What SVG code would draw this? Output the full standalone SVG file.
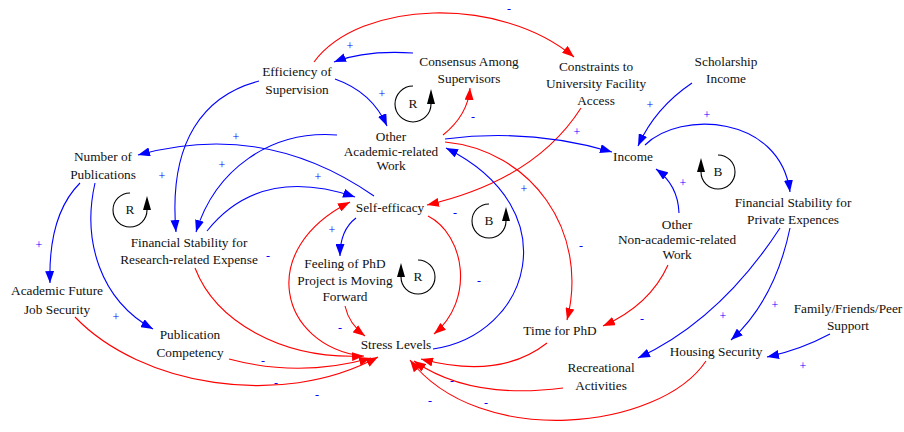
<svg xmlns="http://www.w3.org/2000/svg" width="904" height="432" viewBox="0 0 904 432">
<style>
.n{font-size:13.3px;fill:#111;text-anchor:middle}
.p{font-size:12px;fill:#0000ff;text-anchor:middle}
.b{fill:none;stroke:#0000ff;stroke-width:1.1;marker-end:url(#ab)}
.r{fill:none;stroke:#ff0000;stroke-width:1.1;marker-end:url(#ar)}
.lp{fill:none;stroke:#000;stroke-width:1.1}
.la{fill:#000}
</style>
<defs>
<marker id="ab" viewBox="0 0 12 9" refX="12" refY="4.5" markerWidth="12" markerHeight="9" markerUnits="userSpaceOnUse" orient="auto"><path d="M0,0L12,4.5L0,9z" fill="#0000ff"/></marker>
<marker id="ar" viewBox="0 0 12 9" refX="12" refY="4.5" markerWidth="12" markerHeight="9" markerUnits="userSpaceOnUse" orient="auto"><path d="M0,0L12,4.5L0,9z" fill="#ff0000"/></marker>
</defs>
<rect width="904" height="432" fill="#fff"/>
<g id="connectors">
<path class="r" d="M314,62 C360,0 500,-5 574,57"/>
<path class="b" d="M413,53 Q365,50 334,62"/>
<path class="b" d="M335,79 Q372,92 387,126"/>
<path class="r" d="M443,135 Q468,115 470,88"/>
<path class="b" d="M259,81 C205,95 168,140 176,232"/>
<path class="b" d="M374,196 Q265,120 138,155"/>
<path class="b" d="M337,135 C270,130 215,170 196,232"/>
<path class="b" d="M207,231 Q260,165 355,197"/>
<path class="b" d="M80,183 Q48,215 50,283"/>
<path class="b" d="M95,183 C82,240 100,300 153,329"/>
<path class="r" d="M75,317 C140,385 280,410 378,357"/>
<path class="r" d="M229,359 Q300,378 371,358"/>
<path class="r" d="M195,268 C215,320 280,360 364,356"/>
<path class="r" d="M362,356 C280,345 255,250 350,202"/>
<path class="b" d="M356,218 Q340,230 340,256"/>
<path class="r" d="M345,306 Q349,324 365,336"/>
<path class="r" d="M428,216 C465,235 475,300 434,334"/>
<path class="r" d="M581,108 Q535,180 427,205"/>
<path class="b" d="M445,139 Q530,128 612,152"/>
<path class="r" d="M445,142 C530,150 590,230 567,320"/>
<path class="b" d="M433,349 C530,335 570,210 446,148"/>
<path class="r" d="M547,343 Q500,380 421,359"/>
<path class="r" d="M563,388 Q470,400 414,361"/>
<path class="r" d="M706,361 C660,430 480,450 410,360"/>
<path class="b" d="M692,83 Q655,108 638,146"/>
<path class="b" d="M645,145 C680,110 780,115 790,192"/>
<path class="b" d="M679,213 Q678,185 656,169"/>
<path class="r" d="M668,265 Q650,305 603,326"/>
<path class="b" d="M780,228 Q720,320 638,358"/>
<path class="b" d="M790,228 Q775,300 731,340"/>
<path class="b" d="M830,334 Q800,350 767,357"/>
</g>
<g font-family="'Liberation Serif', 'DejaVu Serif', serif">
<g id="polarities">
<text class="p" x="350" y="50">+</text>
<text class="p" x="509" y="13">-</text>
<text class="p" x="382" y="98">+</text>
<text class="p" x="473" y="121">-</text>
<text class="p" x="577" y="136">+</text>
<text class="p" x="650" y="109">+</text>
<text class="p" x="707" y="119">+</text>
<text class="p" x="236" y="141">+</text>
<text class="p" x="162" y="180">+</text>
<text class="p" x="222" y="169">+</text>
<text class="p" x="318" y="181">+</text>
<text class="p" x="39" y="249">+</text>
<text class="p" x="116" y="321">+</text>
<text class="p" x="268" y="260">-</text>
<text class="p" x="332" y="234">+</text>
<text class="p" x="455" y="217">-</text>
<text class="p" x="524" y="193">+</text>
<text class="p" x="479" y="285">-</text>
<text class="p" x="581" y="250">-</text>
<text class="p" x="683" y="187">+</text>
<text class="p" x="642" y="323">-</text>
<text class="p" x="723" y="320">+</text>
<text class="p" x="775" y="309">+</text>
<text class="p" x="803" y="370">+</text>
<text class="p" x="340" y="332">-</text>
<text class="p" x="263" y="365">-</text>
<text class="p" x="276" y="387">-</text>
<text class="p" x="317" y="399">-</text>
<text class="p" x="452" y="385">-</text>
<text class="p" x="430" y="405">-</text>
<text class="p" x="486" y="407">-</text>
</g>
<g id="loop-R1"><path class="lp" d="M413,86 A18,18 0 1 0 431,104"/><path class="la" d="M431,89 L427,104 L435,104z"/><text class="n" x="413" y="108">R</text></g>
<g id="loop-R2"><path class="lp" d="M130,193 A17,17 0 1 0 147,210"/><path class="la" d="M147,196 L143,210 L151,210z"/><text class="n" x="130" y="214">R</text></g>
<g id="loop-B1"><path class="lp" d="M489,204 A17,17 0 1 0 506,221"/><path class="la" d="M506,207 L502,221 L510,221z"/><text class="n" x="489" y="225">B</text></g>
<g id="loop-B2"><path class="lp" d="M718,155 A17,17 0 1 1 701,172"/><path class="la" d="M701,158 L697,172 L705,172z"/><text class="n" x="718" y="176">B</text></g>
<g id="loop-R3"><path class="lp" d="M418,260 A17,17 0 1 1 401,277"/><path class="la" d="M401,263 L397,277 L405,277z"/><text class="n" x="418" y="281">R</text></g>
<g id="efficiency"><text class="n" x="297" y="76">Efficiency of</text><text class="n" x="297" y="94">Supervision</text></g>
<g id="consensus"><text class="n" x="469" y="66">Consensus Among</text><text class="n" x="469" y="83">Supervisors</text></g>
<g id="constraints"><text class="n" x="596" y="71">Constraints to</text><text class="n" x="596" y="88">University Facility</text><text class="n" x="596" y="105">Access</text></g>
<g id="scholarship"><text class="n" x="726" y="66">Scholarship</text><text class="n" x="726" y="83">Income</text></g>
<g id="other-academic"><text class="n" x="391" y="141">Other</text><text class="n" x="391" y="155.5">Academic-related</text><text class="n" x="391" y="169.5">Work</text></g>
<g id="income"><text class="n" x="633" y="161">Income</text></g>
<g id="number-publications"><text class="n" x="103" y="161">Number of</text><text class="n" x="103" y="179">Publications</text></g>
<g id="self-efficacy"><text class="n" x="390" y="212">Self-efficacy</text></g>
<g id="fs-private"><text class="n" x="793" y="207">Financial Stability for</text><text class="n" x="793" y="224">Private Expences</text></g>
<g id="fs-research"><text class="n" x="189" y="247">Financial Stability for</text><text class="n" x="189" y="264">Research-related Expense</text></g>
<g id="other-nonacademic"><text class="n" x="677" y="229">Other</text><text class="n" x="677" y="244">Non-academic-related</text><text class="n" x="677" y="259">Work</text></g>
<g id="feeling"><text class="n" x="345" y="268">Feeling of PhD</text><text class="n" x="345" y="285">Project is Moving</text><text class="n" x="345" y="301">Forward</text></g>
<g id="academic-future"><text class="n" x="57" y="295">Academic Future</text><text class="n" x="57" y="314">Job Security</text></g>
<g id="publication-competency"><text class="n" x="190" y="339">Publication</text><text class="n" x="190" y="357">Competency</text></g>
<g id="stress"><text class="n" x="396" y="349">Stress Levels</text></g>
<g id="time-phd"><text class="n" x="560" y="335">Time for PhD</text></g>
<g id="recreational"><text class="n" x="601" y="372">Recreational</text><text class="n" x="601" y="390">Activities</text></g>
<g id="housing"><text class="n" x="716" y="356">Housing Security</text></g>
<g id="family"><text class="n" x="848" y="313">Family/Friends/Peer</text><text class="n" x="848" y="330">Support</text></g>
</g>
</svg>
